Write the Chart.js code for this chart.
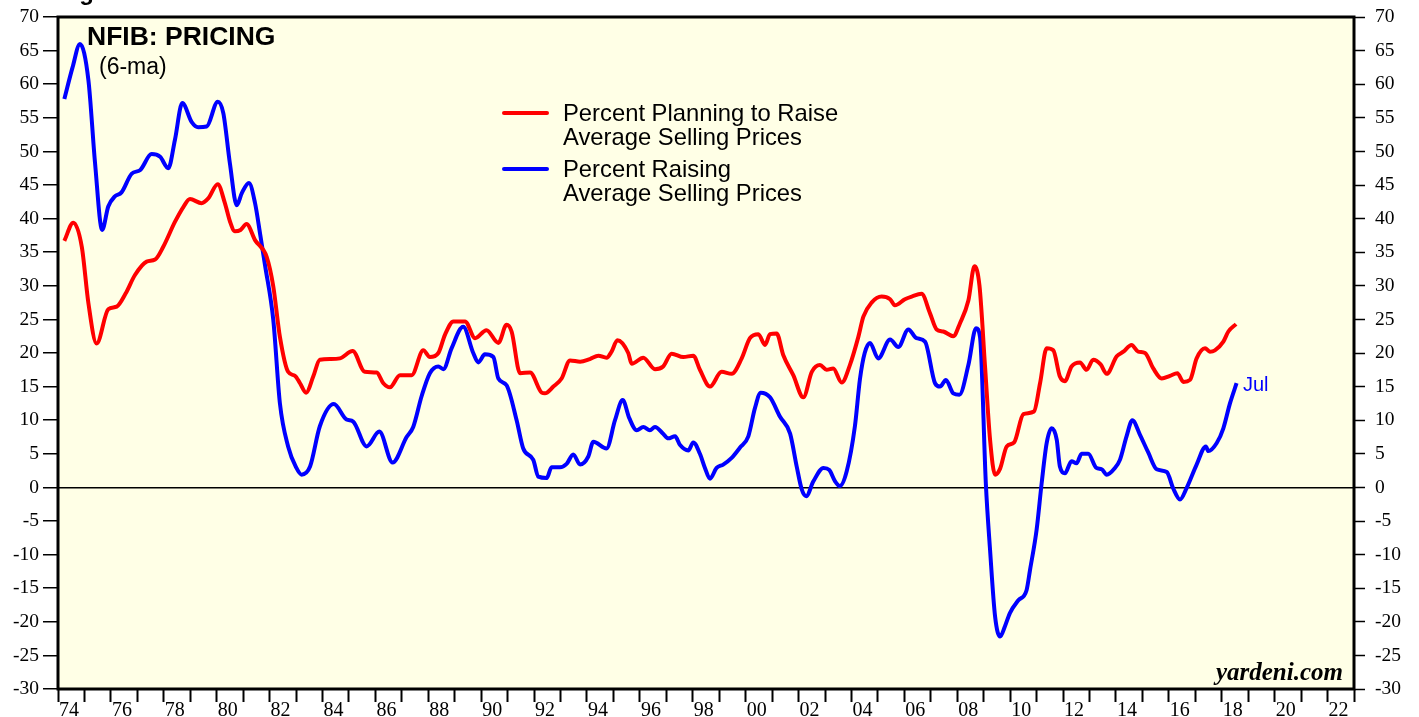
<!DOCTYPE html>
<html>
<head>
<meta charset="utf-8">
<title>NFIB: Pricing</title>
<script src="https://cdn.jsdelivr.net/npm/chart.js@4.4.0/dist/chart.umd.min.js"></script>
<style>
  html, body { margin: 0; padding: 0; background: #fff; }
  #wrap { width: 1419px; height: 717px; }
</style>
</head>
<body>
<div id="wrap"><canvas id="pricingChart" width="1419" height="717"></canvas></div>
<script>
// NFIB pricing, 6-month averages
const redYears = [1974.24, 1974.58, 1974.9, 1975.15, 1975.46, 1975.9, 1976.22, 1976.55, 1976.91, 1977.35, 1977.67, 1977.98,
  1978.42, 1978.75, 1978.99, 1979.43, 1979.68, 1980.04, 1980.31, 1980.5, 1980.69, 1980.9, 1981.13, 1981.45, 1981.89,
  1982.14, 1982.39, 1982.7, 1982.96, 1983.15, 1983.38, 1983.65, 1983.9, 1984.3, 1984.66, 1985.14, 1985.6, 1986.05,
  1986.3, 1986.55, 1986.93, 1987.37, 1987.81, 1988.06, 1988.38, 1988.63, 1988.95, 1989.39, 1989.77, 1990.2, 1990.65,
  1990.96, 1991.15, 1991.47, 1991.85, 1992.29, 1992.41, 1992.73, 1993.04, 1993.36, 1993.74, 1994.11, 1994.43, 1994.74,
  1994.93, 1995.15, 1995.56, 1995.69, 1996.13, 1996.57, 1996.88, 1997.2, 1997.64, 1998.02, 1998.27, 1998.65, 1999.09,
  1999.47, 1999.85, 2000.16, 2000.48, 2000.73, 2000.92, 2001.17, 2001.42, 2001.8, 2002.18, 2002.5, 2002.81, 2003.06,
  2003.31, 2003.63, 2003.94, 2004.26, 2004.45, 2004.76, 2005.14, 2005.46, 2005.64, 2006.02, 2006.28, 2006.65, 2006.97,
  2007.22, 2007.47, 2007.85, 2008.1, 2008.42, 2008.65, 2008.84, 2009.05, 2009.24, 2009.43, 2009.62, 2009.87, 2010.15,
  2010.5, 2010.9, 2011.13, 2011.38, 2011.63, 2011.88, 2012.07, 2012.32, 2012.64, 2012.89, 2013.14, 2013.42, 2013.65,
  2014.03, 2014.28, 2014.59, 2014.84, 2015.1, 2015.41, 2015.73, 2016.04, 2016.32, 2016.55, 2016.8, 2017.05, 2017.37,
  2017.55, 2017.74, 2018.06, 2018.25, 2018.54];
const redValues = [36.7, 39.4, 35.8, 27.4, 21.4, 26.5, 26.9, 28.8, 31.6, 33.6, 33.9, 35.8,
  39.5, 41.8, 42.9, 42.3, 43.0, 45.1, 42.3, 39.6, 38.1, 38.3, 39.2, 36.8, 34.3,
  29.9, 22.4, 17.2, 16.6, 15.5, 14.1, 16.5, 19.0, 19.1, 19.2, 20.3, 17.2, 17.1,
  15.5, 14.9, 16.7, 16.7, 20.4, 19.4, 20.0, 22.7, 24.7, 24.7, 22.2, 23.4, 21.5,
  24.2, 23.2, 17.0, 17.1, 14.1, 14.0, 15.0, 16.2, 18.9, 18.7, 19.1, 19.6, 19.3,
  20.2, 21.9, 20.0, 18.4, 19.3, 17.6, 18.0, 19.9, 19.4, 19.6, 17.5, 15.0, 17.2,
  16.9, 19.2, 22.2, 22.8, 21.2, 22.8, 22.9, 19.7, 16.7, 13.4, 17.2, 18.2, 17.5,
  17.7, 15.6, 18.2, 22.4, 25.4, 27.5, 28.4, 28.0, 27.1, 28.0, 28.4, 28.8, 25.9,
  23.5, 23.2, 22.5, 24.4, 27.8, 32.9, 30.0, 18.0, 7.1, 1.9, 2.8, 6.1, 6.7,
  10.9, 11.3, 15.5, 20.7, 20.4, 16.5, 15.8, 18.0, 18.6, 17.5, 19.0, 18.3, 16.9,
  19.5, 20.2, 21.2, 20.2, 20.0, 17.7, 16.2, 16.6, 17.0, 15.7, 16.0, 19.2, 20.7,
  20.2, 20.4, 21.7, 23.2, 24.3];

const blueYears = [1974.24, 1974.55, 1974.83, 1975.15, 1975.4, 1975.67, 1975.9, 1976.15, 1976.4, 1976.79, 1977.1, 1977.54,
  1977.86, 1978.17, 1978.42, 1978.7, 1979.05, 1979.3, 1979.62, 1980.04, 1980.25, 1980.5, 1980.76, 1980.95, 1981.22,
  1981.45, 1981.65, 1981.83, 1982.14, 1982.39, 1982.7, 1983.0, 1983.21, 1983.53, 1983.9, 1984.43, 1984.91, 1985.16,
  1985.67, 1986.15, 1986.65, 1987.18, 1987.43, 1987.75, 1988.06, 1988.38, 1988.57, 1988.88, 1989.32, 1989.7, 1989.89,
  1990.14, 1990.46, 1990.65, 1990.96, 1991.34, 1991.59, 1991.97, 1992.16, 1992.48, 1992.66, 1992.98, 1993.23, 1993.48,
  1993.74, 1994.05, 1994.24, 1994.74, 1995.06, 1995.35, 1995.6, 1995.88, 1996.13, 1996.38, 1996.57, 1996.88, 1997.07,
  1997.33, 1997.52, 1997.83, 1998.02, 1998.27, 1998.46, 1998.65, 1998.9, 1999.15, 1999.47, 1999.78, 2000.1, 2000.35,
  2000.57, 2000.92, 2001.3, 2001.68, 2001.93, 2002.12, 2002.29, 2002.56, 2002.94, 2003.16, 2003.38, 2003.56, 2003.82,
  2004.13, 2004.32, 2004.5, 2004.7, 2005.01, 2005.46, 2005.77, 2006.15, 2006.46, 2006.78, 2007.16, 2007.35, 2007.57,
  2007.85, 2008.08, 2008.42, 2008.71, 2008.86, 2009.08, 2009.24, 2009.43, 2009.62, 2009.8, 2009.99, 2010.31, 2010.62,
  2010.75, 2011.0, 2011.19, 2011.38, 2011.57, 2011.76, 2011.88, 2012.07, 2012.32, 2012.51, 2012.7, 2012.95, 2013.26,
  2013.46, 2013.65, 2013.96, 2014.15, 2014.4, 2014.62, 2014.9, 2015.22, 2015.54, 2015.92, 2016.17, 2016.42, 2016.67,
  2017.05, 2017.4, 2017.49, 2017.81, 2018.06, 2018.31, 2018.56];
const blueValues = [57.8, 62.5, 66.0, 60.6, 48.3, 38.3, 41.8, 43.3, 43.9, 46.7, 47.2, 49.6,
  49.2, 47.5, 51.7, 57.2, 54.4, 53.6, 53.7, 57.4, 55.7, 48.2, 42.0, 43.8, 45.3,
  42.3, 37.5, 33.0, 24.9, 12.5, 6.1, 3.0, 1.9, 3.1, 9.1, 12.4, 10.1, 9.8,
  6.1, 8.3, 3.7, 7.5, 9.0, 13.6, 17.0, 18.0, 17.6, 20.7, 23.9, 20.0, 18.6,
  19.8, 19.4, 16.2, 15.2, 10.0, 5.8, 4.1, 1.6, 1.4, 3.0, 3.0, 3.5, 4.9,
  3.4, 4.6, 6.8, 5.8, 10.0, 13.0, 10.3, 8.5, 9.0, 8.5, 9.0, 8.0, 7.3,
  7.6, 6.3, 5.5, 6.7, 5.0, 2.9, 1.3, 2.9, 3.4, 4.4, 5.9, 7.6, 11.8,
  14.1, 13.4, 10.5, 8.0, 3.1, -0.3, -1.3, 0.9, 2.9, 2.6, 0.9, 0.2, 2.4,
  9.1, 16.1, 20.0, 21.5, 19.2, 22.0, 20.9, 23.5, 22.2, 21.7, 15.5, 15.0, 16.0,
  14.0, 13.8, 18.2, 23.7, 22.4, 0.6, -9.3, -19.2, -22.2, -20.7, -18.7, -16.8, -15.3,
  -12.3, -6.3, 0.6, 6.6, 8.8, 7.1, 3.1, 2.1, 3.9, 3.6, 5.0, 5.0, 2.9,
  2.7, 1.9, 2.9, 4.1, 7.6, 10.0, 7.9, 5.2, 2.7, 2.3, -0.2, -1.8, -0.1,
  3.4, 6.1, 5.4, 6.6, 8.8, 12.5, 15.5];

const yearLabels = ['74', '76', '78', '80', '82', '84', '86', '88', '90', '92', '94', '96', '98',
  '00', '02', '04', '06', '08', '10', '12', '14', '16', '18', '20', '22'];
const firstYear = 1974;
const lastYear = 2023;
const yMin = -30, yMax = 70, yStep = 5;

const redLabel = ['Percent Planning to Raise', 'Average Selling Prices'];
const blueLabel = ['Percent Raising', 'Average Selling Prices'];

const toPoints = (xs, ys) => xs.map((x, i) => ({ x: x, y: ys[i] }));

// background, frame and the text bits
const decorations = {
  id: 'decorations',
  beforeDraw(chart) {
    const { ctx, chartArea: a } = chart;
    ctx.save();
    ctx.fillStyle = '#ffffff';
    ctx.fillRect(0, 0, chart.width, chart.height);
    ctx.fillStyle = '#ffffe6';
    ctx.fillRect(a.left, a.top, a.right - a.left, a.bottom - a.top);
    ctx.restore();
  },
  afterDraw(chart) {
    const { ctx, chartArea: a } = chart;
    ctx.save();
    ctx.strokeStyle = '#000';
    ctx.lineWidth = 3;
    ctx.strokeRect(a.left, a.top, a.right - a.left, a.bottom - a.top);

    ctx.fillStyle = '#000';
    ctx.textBaseline = 'alphabetic';
    ctx.textAlign = 'left';
    ctx.font = 'bold 24px "Liberation Sans", Arial, sans-serif';
    ctx.fillText('Figure 5.', 58, 0);
    ctx.font = 'bold 26.5px "Liberation Sans", Arial, sans-serif';
    ctx.fillText('NFIB: PRICING', 87, 45);
    ctx.font = '23px "Liberation Sans", Arial, sans-serif';
    ctx.fillText('(6-ma)', 99, 74);

    // legend
    const items = [[redLabel, '#ff0000', 113], [blueLabel, '#0000ff', 169]];
    items.forEach(([lines, color, y]) => {
      ctx.strokeStyle = color;
      ctx.lineWidth = 4;
      ctx.lineCap = 'round';
      ctx.beginPath();
      ctx.moveTo(504, y);
      ctx.lineTo(547, y);
      ctx.stroke();
      ctx.fillStyle = '#000';
      ctx.font = '23.8px "Liberation Sans", Arial, sans-serif';
      lines.forEach((t, i) => ctx.fillText(t, 563, y + 8 + i * 24));
    });

    // end label
    ctx.fillStyle = '#0000ff';
    ctx.font = '20px "Liberation Sans", Arial, sans-serif';
    ctx.fillText('Jul', 1243, 391);

    ctx.fillStyle = '#000';
    ctx.font = 'italic bold 25px "Liberation Serif", "Times New Roman", serif';
    ctx.textAlign = 'right';
    ctx.fillText('yardeni.com', 1343, 680);
    ctx.restore();
  }
};

const yTickFont = { family: '"Liberation Serif", "Times New Roman", serif', size: 19.5 };
const xTickFont = { family: '"Liberation Serif", "Times New Roman", serif', size: 20 };

// keep the plot frame where the reference has it
const fixY = (w) => (s) => { s.width = w; s.paddingTop = 0; s.paddingBottom = 0; };

new Chart(document.getElementById('pricingChart'), {
  type: 'line',
  data: {
    datasets: [
      {
        label: redLabel.join(' '),
        data: toPoints(redYears, redValues),
        borderColor: '#ff0000',
        borderWidth: 4,
        pointRadius: 0,
        cubicInterpolationMode: 'monotone',
        yAxisID: 'y'
      },
      {
        label: blueLabel.join(' '),
        data: toPoints(blueYears, blueValues),
        borderColor: '#0000ff',
        borderWidth: 4,
        pointRadius: 0,
        cubicInterpolationMode: 'monotone',
        yAxisID: 'y'
      }
    ]
  },
  options: {
    responsive: false,
    devicePixelRatio: 1,
    animation: false,
    layout: { padding: { top: 17, left: 0, right: 0, bottom: 0 } },
    plugins: {
      legend: { display: false },
      tooltip: { enabled: false }
    },
    scales: {
      x: {
        type: 'linear',
        min: firstYear,
        max: lastYear,
        afterFit: (s) => { s.height = 28; s.paddingLeft = 0; s.paddingRight = 0; },
        afterBuildTicks: (s) => {
          const t = [];
          for (let yr = firstYear; yr <= lastYear; yr++) t.push({ value: yr });
          s.ticks = t;
        },
        ticks: {
          autoSkip: false,
          maxRotation: 0,
          labelOffset: 11,
          padding: -3,
          color: '#000',
          font: xTickFont,
          callback: (v) => {
            const i = (v - firstYear) / 2;
            return Number.isInteger(i) && i < yearLabels.length ? yearLabels[i] : '';
          }
        },
        grid: {
          drawOnChartArea: false,
          tickLength: 13,
          tickColor: '#000',
          tickWidth: 2,
          color: '#000'
        },
        border: { display: false }
      },
      y: {
        position: 'left',
        min: yMin,
        max: yMax,
        afterFit: fixY(58),
        ticks: { stepSize: yStep, autoSkip: false, color: '#000', font: yTickFont, padding: 4 },
        grid: {
          drawOnChartArea: true,
          color: (c) => (c.tick && c.tick.value === 0 ? '#000' : 'rgba(0,0,0,0)'),
          lineWidth: 1.5,
          tickLength: 15,
          tickColor: '#000',
          tickWidth: 1.5
        },
        border: { display: false }
      },
      y2: {
        position: 'right',
        min: yMin,
        max: yMax,
        afterFit: fixY(65),
        ticks: { stepSize: yStep, autoSkip: false, color: '#000', font: yTickFont, padding: 10 },
        grid: {
          drawOnChartArea: false,
          tickLength: 11,
          tickColor: '#000',
          tickWidth: 1.5
        },
        border: { display: false }
      }
    }
  },
  plugins: [decorations]
});
</script>
</body>
</html>
